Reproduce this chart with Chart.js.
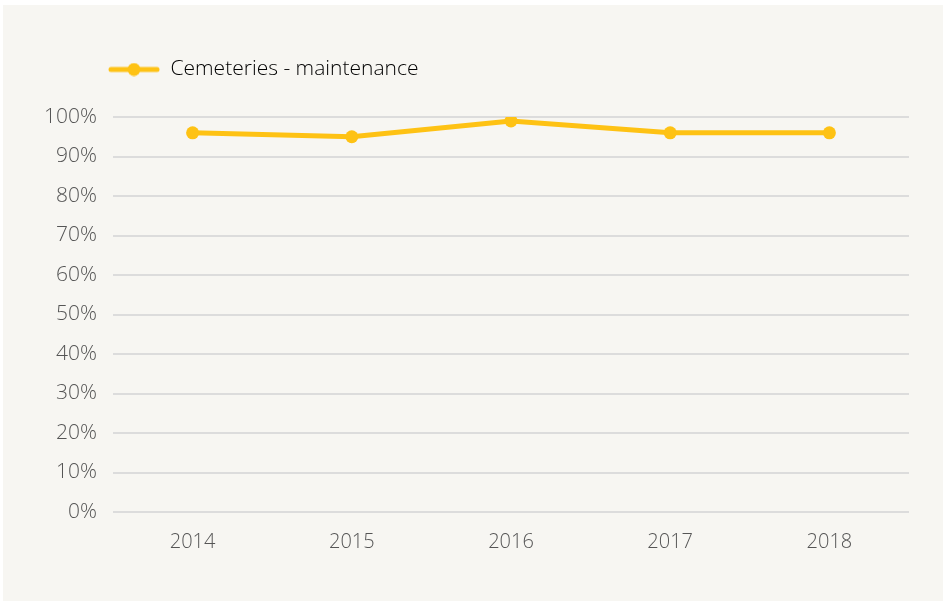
<!DOCTYPE html>
<html>
<head>
<meta charset="utf-8">
<script src="https://cdn.jsdelivr.net/npm/chart.js@4/dist/chart.umd.min.js"></script>
<style>
  html, body { margin: 0; padding: 0; background: #ffffff; }
  #panel { position: absolute; left: 3px; top: 5px; width: 940px; height: 596px; background: #f7f6f2; }
  #wrap { position: absolute; left: 0; top: 0; width: 946px; height: 602px; }
</style>
</head>
<body>
<div id="panel"></div>
<div id="wrap"><canvas id="c" width="946" height="602"></canvas></div>
<script>
const categories = ['2014', '2015', '2016', '2017', '2018'];
const seriesName = 'Cemeteries - maintenance';
const seriesValues = [96, 95, 99, 96, 96];
const yTicks = [0, 10, 20, 30, 40, 50, 60, 70, 80, 90, 100];

const YELLOW = '#fec214';
const FONT = "'Open Sans', sans-serif";

// legend marker: line with a dot
const marker = document.createElement('canvas');
marker.width = 52; marker.height = 14;
(function () {
  const m = marker.getContext('2d');
  m.strokeStyle = YELLOW; m.lineWidth = 5; m.lineCap = 'round';
  m.beginPath(); m.moveTo(3, 7); m.lineTo(49, 7); m.stroke();
  m.fillStyle = YELLOW; m.beginPath(); m.arc(26, 7, 6.5, 0, Math.PI * 2); m.fill();
})();

const shiftLegend = {
  id: 'shiftLegend',
  beforeLayout(chart) {
    const lg = chart.legend;
    if (lg && !lg._extraGap) {
      const fit = lg.fit.bind(lg);
      lg.fit = function () { fit(); this.height += 27; };
      lg._extraGap = true;
    }
  },
  afterLayout(chart) {
    if (chart.legend) { chart.legend.left = 69; }
  }
};

new Chart(document.getElementById('c'), {
  type: 'line',
  data: {
    labels: categories,
    datasets: [{
      label: seriesName,
      data: seriesValues,
      borderColor: YELLOW,
      backgroundColor: YELLOW,
      borderWidth: 5,
      pointRadius: 6.5,
      pointHoverRadius: 6.5,
      pointBackgroundColor: YELLOW,
      pointBorderWidth: 0,
      tension: 0
    }]
  },
  plugins: [shiftLegend],
  options: {
    responsive: false,
    animation: false,
    layout: { padding: { left: 0, right: 37, top: 20, bottom: 30 } },
    plugins: {
      tooltip: { enabled: false },
      legend: {
        position: 'top',
        align: 'start',
        labels: {
          usePointStyle: true,
          pointStyleWidth: 52,
          color: '#555555',
          font: { family: FONT, size: 21, weight: 300 },
          padding: 39,
          generateLabels: (chart) => chart.data.datasets.map((ds, i) => ({
            text: ds.label,
            pointStyle: marker,
            fillStyle: YELLOW,
            strokeStyle: YELLOW,
            lineWidth: 0,
            datasetIndex: i,
            hidden: false
          }))
        }
      }
    },
    scales: {
      x: {
        offset: true,
        grid: { display: false, drawTicks: false },
        border: { display: false },
        ticks: { color: '#555555', padding: 18, font: { family: FONT, size: 20, weight: 300 } }
      },
      y: {
        min: 0, max: 100,
        afterFit: (s) => { s.width = 113; },
        afterBuildTicks: (s) => { s.ticks = yTicks.map(v => ({ value: v })); },
        grid: { color: '#dcdcdc', lineWidth: 2, drawTicks: false },
        border: { display: false },
        ticks: {
          color: '#555555', padding: 16,
          font: { family: FONT, size: 21, weight: 300 },
          callback: (v) => v + '%'
        }
      }
    }
  }
});
</script>
</body>
</html>
